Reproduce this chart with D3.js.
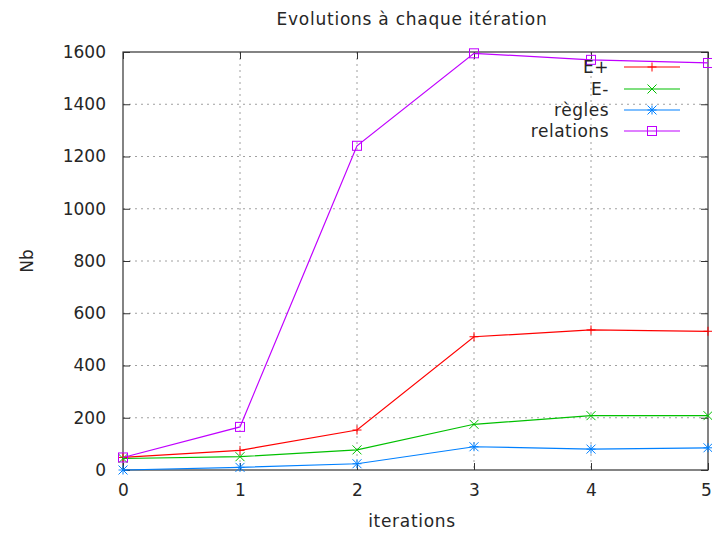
<!DOCTYPE html>
<html><head><meta charset="utf-8">
<script src="https://cdn.jsdelivr.net/npm/d3@7"></script>
<style>body{margin:0;background:#fff}text{font-family:"DejaVu Sans",sans-serif;fill:#262626}</style>
</head><body><svg id="c" width="712" height="533"></svg>
<script>
const iterations = [0, 1, 2, 3, 4, 5];
const ePlus = [48, 75, 153, 510, 536, 531];
const eMinus = [44, 51, 77, 175, 208, 208];
const regles = [0, 10, 24, 89, 80, 85];
const relations = [48, 165, 1241, 1595, 1570, 1558];
const seriesNames = ["E+", "E-", "règles", "relations"];
const seriesColors = ["#ff0000", "#00c000", "#0080ff", "#c000ff"];
const seriesMarkers = ["plus", "cross", "star", "square"];
const yTicks = [0, 200, 400, 600, 800, 1000, 1200, 1400, 1600];
const xTicks = [0, 1, 2, 3, 4, 5];

const allSeries = [ePlus, eMinus, regles, relations];
const svg = d3.select("#c");
const L = 123, R = 708, T = 52, B = 470;
const x = d3.scaleLinear().domain([0, 5]).range([L, R]);
const y = d3.scaleLinear().domain([0, 1600]).range([B, T]);

// grid
const g = svg.append("g");
g.selectAll(".hg").data(yTicks.slice(1, -1)).join("line")
  .attr("x1", L).attr("x2", R).attr("y1", d => y(d)).attr("y2", d => y(d))
  .attr("stroke", "#a0a0a0").attr("stroke-dasharray", "2,4").attr("stroke-width", 1);
g.selectAll(".vg").data(xTicks.slice(1, -1)).join("line")
  .attr("y1", T).attr("y2", B).attr("x1", d => x(d)).attr("x2", d => x(d))
  .attr("stroke", "#a0a0a0").attr("stroke-dasharray", "2,4").attr("stroke-width", 1);

// axes using d3
const ax = svg.append("g").attr("transform", `translate(0,${B})`)
  .call(d3.axisBottom(x).tickValues(xTicks).tickSize(-7).tickPadding(14).tickFormat(d3.format("d")));
const axT = svg.append("g").attr("transform", `translate(0,${T})`)
  .call(d3.axisTop(x).tickValues(xTicks).tickSize(-7).tickFormat(""));
const ay = svg.append("g").attr("transform", `translate(${L},0)`)
  .call(d3.axisLeft(y).tickValues(yTicks).tickSize(-7).tickPadding(17).tickFormat(d3.format("d")));
const ayR = svg.append("g").attr("transform", `translate(${R},0)`)
  .call(d3.axisRight(y).tickValues(yTicks).tickSize(-7).tickFormat(""));
[ax, axT, ay, ayR].forEach(a => {
  a.selectAll(".domain").remove();
  a.selectAll("line").attr("stroke", "#333");
  a.selectAll("text").style("font-size", "17px").style("font-family", "DejaVu Sans, sans-serif").attr("fill", "#262626");
});
ax.selectAll("text").filter(d => d === 5).attr("dx", "-2px");
svg.append("rect").attr("x", L).attr("y", T).attr("width", R - L).attr("height", B - T)
  .attr("fill", "none").attr("stroke", "#333").attr("stroke-width", 1.2);

function marker(sel, type, color) {
  const s = 4.5;
  if (type === "plus") {
    sel.append("path").attr("d", `M${-s},0H${s}M0,${-s}V${s}`).attr("stroke", color).attr("fill", "none");
  } else if (type === "cross") {
    sel.append("path").attr("d", `M${-s},${-s}L${s},${s}M${-s},${s}L${s},${-s}`).attr("stroke", color).attr("fill", "none");
  } else if (type === "star") {
    sel.append("path").attr("d", `M${-s},0H${s}M0,${-s}V${s}M${-s},${-s}L${s},${s}M${-s},${s}L${s},${-s}`).attr("stroke", color).attr("fill", "none");
  } else {
    sel.append("rect").attr("x", -s).attr("y", -s).attr("width", 2 * s).attr("height", 2 * s).attr("stroke", color).attr("fill", "none");
  }
}

const line = d3.line().x((d, i) => x(iterations[i])).y(d => y(d));
allSeries.forEach((vals, k) => {
  svg.append("path").datum(vals).attr("d", line).attr("fill", "none")
    .attr("stroke", seriesColors[k]).attr("stroke-width", 1.2);
  vals.forEach((v, i) => {
    const m = svg.append("g").attr("transform", `translate(${x(iterations[i])},${y(v)})`);
    marker(m, seriesMarkers[k], seriesColors[k]);
  });
});

// legend
const legY = [67, 89, 110, 131];
seriesNames.forEach((n, k) => {
  const ly = legY[k];
  svg.append("text").attr("x", 609).attr("y", ly).attr("dy", "0.35em").attr("text-anchor", "end")
    .style("font-size", "17px").style("letter-spacing", "0.5px").text(n);
  svg.append("line").attr("x1", 624).attr("x2", 680).attr("y1", ly).attr("y2", ly)
    .attr("stroke", seriesColors[k]).attr("stroke-width", 1.2);
  const m = svg.append("g").attr("transform", `translate(652,${ly})`);
  marker(m, seriesMarkers[k], seriesColors[k]);
});

svg.append("text").attr("x", 412).attr("y", 25).attr("text-anchor", "middle").style("font-size", "17px").style("letter-spacing", "0.75px").text("Evolutions à chaque itération");
svg.append("text").attr("x", 412).attr("y", 527).attr("text-anchor", "middle").style("font-size", "17px").style("letter-spacing", "0.7px").text("iterations");
svg.append("text").attr("transform", "translate(27,261) rotate(-90)").attr("dy", "0.35em").attr("text-anchor", "middle").style("font-size", "17px").text("Nb");
</script></body></html>
